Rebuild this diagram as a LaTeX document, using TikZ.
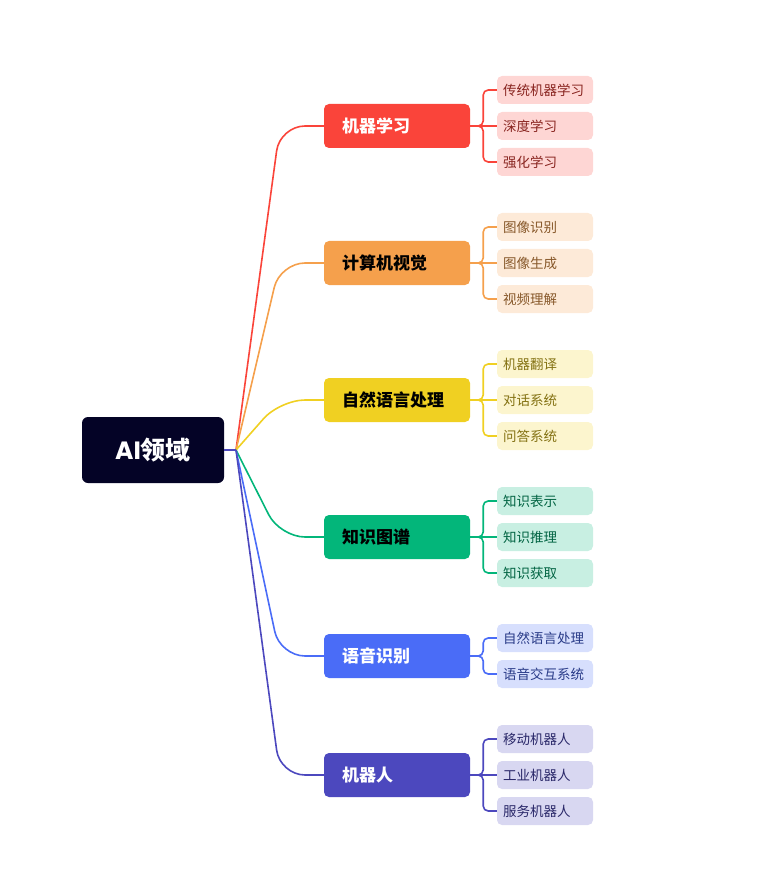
\documentclass[tikz,border=0pt]{standalone}
\usepackage{fontspec}
\setmainfont{Noto Sans CJK SC}
\newfontfamily\latinfont{Poppins}
\definecolor{rootc}{RGB}{4,3,38}
\definecolor{cred}{RGB}{250,68,58}
\definecolor{corange}{RGB}{245,160,76}
\definecolor{cyellow}{RGB}{240,208,34}
\definecolor{cgreen}{RGB}{3,182,122}
\definecolor{cblue}{RGB}{74,108,247}
\definecolor{cpurple}{RGB}{76,72,190}
\begin{document}
\begin{tikzpicture}[x=1pt,y=-1pt,
  root/.style={fill=rootc,text=white,rounded corners=6,minimum width=142,minimum height=66,inner sep=0,font=\fontsize{25}{28}\selectfont\bfseries},
  branch/.style={fill=#1,rounded corners=5,text width=110,inner xsep=18,inner ysep=0,minimum height=44,align=left,font=\fontsize{17}{20}\selectfont\bfseries},
  leaf/.style={fill=#1!22,text=#1!55!black,rounded corners=5,text width=84,inner xsep=6,inner ysep=0,minimum height=28,align=left,font=\fontsize{13.5}{16}\selectfont},
  curve/.style={draw=#1,line width=1.6,rounded corners=25},
  bracket/.style={draw=#1,line width=1.6,rounded corners=5}]
\useasboundingbox (0,0) rectangle (757,882);

% root
\node[root] (root) at (153,450) {{\latinfont AI}领域};
\coordinate (hub) at (236,450);

% branches
\node[branch=cred,text=white]    (ml)  at (397,126) {机器学习};
\node[branch=corange,text=black] (cv)  at (397,263) {计算机视觉};
\node[branch=cyellow,text=black] (nlp) at (397,400) {自然语言处理};
\node[branch=cgreen,text=black]  (kg)  at (397,537) {知识图谱};
\node[branch=cblue,text=white]   (sr)  at (397,656) {语音识别};
\node[branch=cpurple,text=white] (rb)  at (397,775) {机器人};

% leaves
\node[leaf=cred] (ml1) at (545,90)  {传统机器学习};
\node[leaf=cred] (ml2) at (545,126) {深度学习};
\node[leaf=cred] (ml3) at (545,162) {强化学习};

\node[leaf=corange] (cv1) at (545,227) {图像识别};
\node[leaf=corange] (cv2) at (545,263) {图像生成};
\node[leaf=corange] (cv3) at (545,299) {视频理解};

\node[leaf=cyellow] (nlp1) at (545,364) {机器翻译};
\node[leaf=cyellow] (nlp2) at (545,400) {对话系统};
\node[leaf=cyellow] (nlp3) at (545,436) {问答系统};

\node[leaf=cgreen] (kg1) at (545,501) {知识表示};
\node[leaf=cgreen] (kg2) at (545,537) {知识推理};
\node[leaf=cgreen] (kg3) at (545,573) {知识获取};

\node[leaf=cblue] (sr1) at (545,638) {自然语言处理};
\node[leaf=cblue] (sr2) at (545,674) {语音交互系统};

\node[leaf=cpurple] (rb1) at (545,739) {移动机器人};
\node[leaf=cpurple] (rb2) at (545,775) {工业机器人};
\node[leaf=cpurple] (rb3) at (545,811) {服务机器人};

% root to branches
\draw[curve=cred]    (hub) -- (280,126) -- (ml.west);
\draw[curve=corange] (hub) -- (280,263) -- (cv.west);
\draw[curve=cyellow] (hub) -- (280,400) -- (nlp.west);
\draw[curve=cgreen]  (hub) -- (280,537) -- (kg.west);
\draw[curve=cblue]   (hub) -- (280,656) -- (sr.west);
\draw[curve=cpurple] (hub) -- (280,775) -- (rb.west);
\draw[curve=cpurple] (root.east) -- (hub);

% branches to leaves
\draw[bracket=cred] (ml.east) -- ++(13,0) |- (ml1.west);
\draw[bracket=cred] (ml.east) -- (ml2.west);
\draw[bracket=cred] (ml.east) -- ++(13,0) |- (ml3.west);

\draw[bracket=corange] (cv.east) -- ++(13,0) |- (cv1.west);
\draw[bracket=corange] (cv.east) -- (cv2.west);
\draw[bracket=corange] (cv.east) -- ++(13,0) |- (cv3.west);

\draw[bracket=cyellow] (nlp.east) -- ++(13,0) |- (nlp1.west);
\draw[bracket=cyellow] (nlp.east) -- (nlp2.west);
\draw[bracket=cyellow] (nlp.east) -- ++(13,0) |- (nlp3.west);

\draw[bracket=cgreen] (kg.east) -- ++(13,0) |- (kg1.west);
\draw[bracket=cgreen] (kg.east) -- (kg2.west);
\draw[bracket=cgreen] (kg.east) -- ++(13,0) |- (kg3.west);

\draw[bracket=cblue] (sr.east) -- ++(13,0) |- (sr1.west);
\draw[bracket=cblue] (sr.east) -- ++(13,0) |- (sr2.west);

\draw[bracket=cpurple] (rb.east) -- ++(13,0) |- (rb1.west);
\draw[bracket=cpurple] (rb.east) -- (rb2.west);
\draw[bracket=cpurple] (rb.east) -- ++(13,0) |- (rb3.west);

\end{tikzpicture}
\end{document}
